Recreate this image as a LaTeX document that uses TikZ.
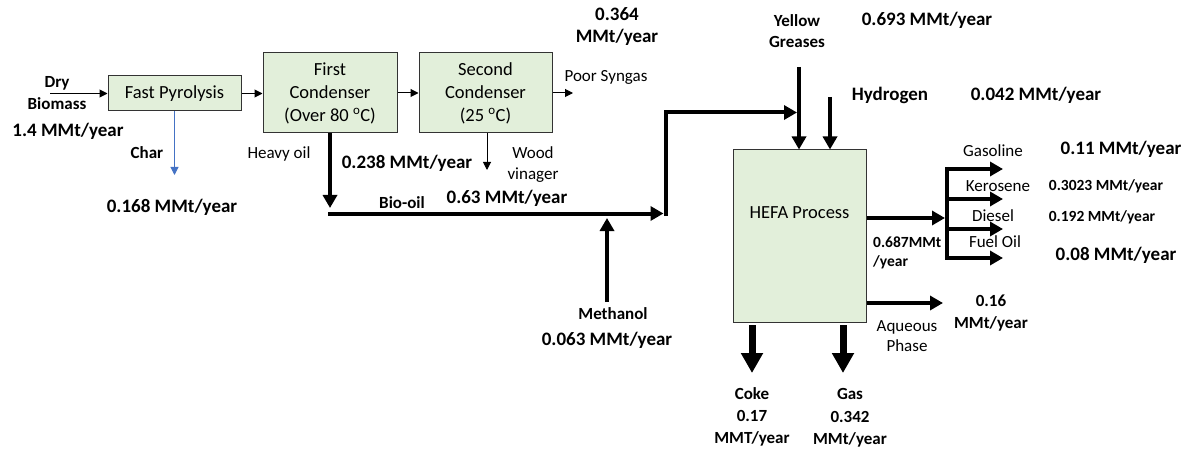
\documentclass[tikz,border=0pt]{standalone}
\usepackage{fontspec}
\setmainfont{Carlito}
\usetikzlibrary{arrows.meta}
\definecolor{unitgreen}{HTML}{E2EFDA}
\definecolor{charblue}{HTML}{4472C4}

\begin{document}
\begin{tikzpicture}[x=1pt,y=-1pt,
    unit/.style={draw=black!80,line width=1pt,fill=unitgreen,inner sep=0pt,align=center,font=\fontsize{18.5}{23}\selectfont},
    unittxt/.style={inner sep=0pt,font=\fontsize{18.5}{23}\selectfont},
    lbl/.style={align=center,inner sep=0pt,font=\fontsize{17}{20.5}\selectfont},
    blbl/.style={lbl,font=\fontsize{17}{21.5}\selectfont\bfseries},
    val/.style={lbl,font=\fontsize{19}{22}\selectfont\bfseries},
    sval/.style={lbl,font=\fontsize{15.5}{19}\selectfont\bfseries},
    flow/.style={line width=1pt,-{Triangle[length=8pt,width=8pt]}},
    bigflow/.style={line width=4pt,-{Triangle[length=13pt,width=14pt]}},
    hugeflow/.style={line width=7pt,-{Triangle[length=20pt,width=21pt]}}]
  \useasboundingbox (0,0) rectangle (1188,449);

  % process units
  \node[unit,minimum width=133pt,minimum height=35pt] (fp) at (174.5,93.5) {Fast Pyrolysis};
  \node[unit,minimum width=134pt,minimum height=80pt] (fc) at (330,93) {First\\Condenser\\(Over 80 \textsuperscript{o}C)};
  \node[unit,minimum width=133pt,minimum height=80pt] (sc) at (485.5,93) {Second\\Condenser\\(25 \textsuperscript{o}C)};
  \node[unit,minimum width=133pt,minimum height=172pt] (hefa) at (799.5,236) {};
  \node[unittxt] (hefatxt) at (799.5,213) {HEFA Process};

  % feed and pyrolysis side
  \coordinate (dryS) at (50,93);
  \draw[flow] (dryS |- fp.west) -- (fp.west);
  \node[blbl] (dry) at (57,93) {Dry\\Biomass};
  \node[val] (dryval) at (68,131) {1.4 MMt/year};
  \coordinate (charE) at (174.5,175);
  \draw[flow,draw=charblue,-{Triangle[length=8pt,width=8pt,fill=charblue]}] (fp.south) -- (charE);
  \node[blbl] (char) at (147,153) {Char};
  \node[val] (charval) at (172,207) {0.168 MMt/year};
  \draw[flow] (fp.east) -- (fp.east -| fc.west);
  \draw[flow] (fc.east) -- (sc.west);
  \coordinate (sgE) at (573,93);
  \draw[flow] (sc.east) -- (sgE);
  \node[lbl] (syngas) at (606,77) {Poor Syngas};
  \node[val] (sgval) at (617,27) {0.364\\MMt/year};
  \coordinate (wvE) at (487,170);
  \draw[flow] (wvE |- sc.south) -- (wvE);
  \node[lbl] (wood) at (533,164.5) {Wood\\vinager};
  \node[val] (wvval) at (407,163) {0.238 MMt/year};

  % bio-oil line
  \coordinate (hvE) at (330,208);
  \draw[bigflow] (fc.south) -- (hvE);
  \node[lbl] (heavy) at (279,154) {Heavy oil};
  \coordinate (bioS) at (328,213.5);
  \coordinate (mixW) at (663.5,213.5);
  \draw[bigflow] (bioS) -- (mixW);
  \node[blbl] (biooil) at (402,203) {Bio-oil};
  \node[val] (boval) at (507,198) {0.63 MMt/year};
  \coordinate (meS) at (607,302);
  \coordinate (meE) at (607,218);
  \draw[bigflow] (meS) -- (meE);
  \node[blbl] (meth) at (613,314) {Methanol};
  \node[val] (methval) at (607,340) {0.063 MMt/year};
  \coordinate (upB) at (665.5,216);
  \coordinate (ygJ) at (797,112.5);
  \draw[bigflow] (upB) |- (ygJ);

  % HEFA feeds
  \coordinate (ygS) at (799,67);
  \draw[bigflow] (ygS) -- (ygS |- hefa.north);
  \node[blbl] (yg) at (797,31) {Yellow\\Greases};
  \node[val] (ygval) at (927,20) {0.693 MMt/year};
  \coordinate (h2S) at (830,97);
  \draw[bigflow] (h2S) -- (h2S |- hefa.north);
  \node[val] (h2) at (890,95) {Hydrogen};
  \node[val] (h2val) at (1036,95) {0.042 MMt/year};

  % HEFA products
  \coordinate (hefaE) at (945,218);
  \draw[bigflow] (hefa.east |- hefaE) -- (hefaE);
  \node[sval,align=left,anchor=west] (hefaval) at (873,252.5) {0.687MMt\\/year};
  \coordinate (barT) at (947,167);
  \coordinate (barB) at (947,260);
  \draw[line width=4pt] (barT) -- (barB);
  \foreach \yy/\nm in {169/gso,199/ker,229/dsl,258/fol}{
    \coordinate (\nm) at (1003,\yy);
    \draw[bigflow] (barT |- \nm) -- (\nm);
  }
  \node[lbl] (gsolbl) at (993,151) {Gasoline};
  \node[lbl] (kerlbl) at (998,186) {Kerosene};
  \node[lbl] (dsllbl) at (993,216) {Diesel};
  \node[lbl] (follbl) at (995,242) {Fuel Oil};
  \node[val] (gsoval) at (1121,149) {0.11 MMt/year};
  \node[sval] (kerval) at (1106,186) {0.3023 MMt/year};
  \node[sval] (dslval) at (1102,217) {0.192 MMt/year};
  \node[val] (folval) at (1116,255) {0.08 MMt/year};

  \coordinate (aqE) at (943,303);
  \draw[bigflow] (hefa.east |- aqE) -- (aqE);
  \node[lbl] (aq) at (907,336) {Aqueous\\Phase};
  \node[blbl] (aqval) at (991,313) {0.16\\MMt/year};

  \coordinate (cokeE) at (752,373);
  \coordinate (gasE) at (843,373);
  \draw[hugeflow] (752,325) -- (cokeE);
  \draw[hugeflow] (843,325) -- (gasE);
  \node[blbl] (coke) at (752,394) {Coke};
  \node[blbl] (cokeval) at (752,428.5) {0.17\\MMT/year};
  \node[blbl] (gas) at (850,394) {Gas};
  \node[blbl] (gasval) at (850,429.5) {0.342\\MMt/year};
\end{tikzpicture}
\end{document}
